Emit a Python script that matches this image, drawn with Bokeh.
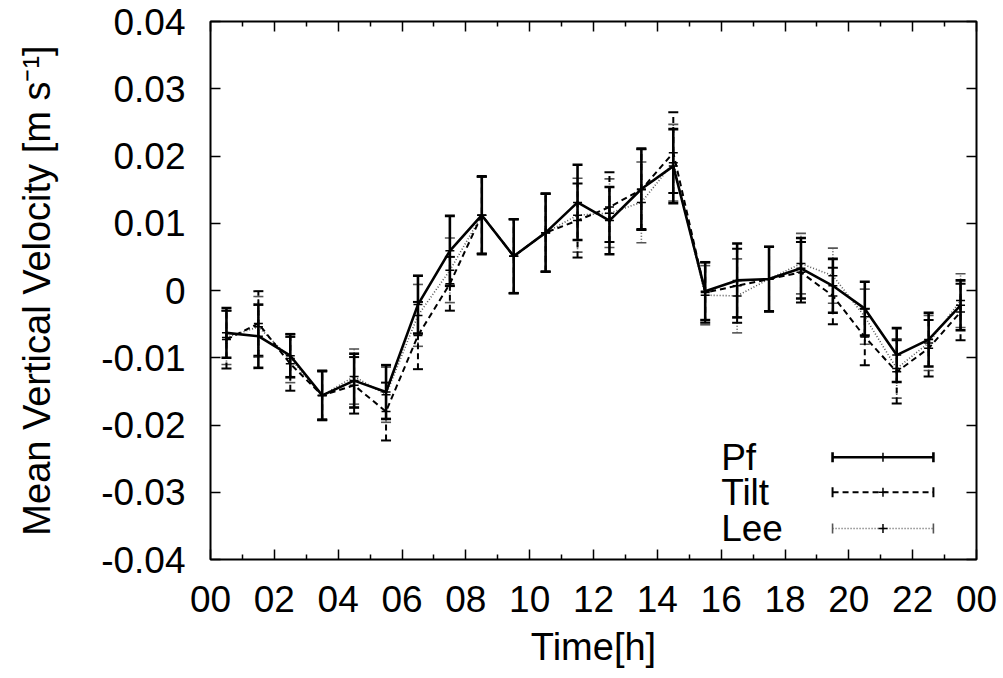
from bokeh.plotting import figure
from bokeh.models import Range1d, FixedTicker, LinearAxis, Whisker, TeeHead, ColumnDataSource
from bokeh.embed import file_html
from bokeh.resources import INLINE
from bokeh.core.properties import value

# ---------------- data ----------------
hours = [0.5, 1.5, 2.5, 3.5, 4.5, 5.5, 6.5, 7.5, 8.5, 9.5, 10.5, 11.5,
         12.5, 13.5, 14.5, 15.5, 16.5, 17.5, 18.5, 19.5, 20.5, 21.5, 22.5, 23.5]

pf = [-0.0063, -0.0068, -0.0097, -0.0156, -0.0134, -0.0151, -0.0021, 0.0059,
      0.0112, 0.0051, 0.0086, 0.0131, 0.0104, 0.0151, 0.0185, -0.0001,
      0.0015, 0.0017, 0.0033, 0.0007, -0.0027, -0.0096, -0.0073, -0.0022]
pf_err = [0.0037, 0.0047, 0.0032, 0.0036, 0.0040, 0.0040, 0.0043, 0.0052,
          0.0058, 0.0055, 0.0058, 0.0056, 0.0050, 0.0060, 0.0055, 0.0043,
          0.0055, 0.0048, 0.0045, 0.0040, 0.0040, 0.0040, 0.0040, 0.0037]

tilt = [-0.0073, -0.0049, -0.0109, -0.0156, -0.0141, -0.0180, -0.0067, 0.0010,
        0.0112, 0.0051, 0.0086, 0.0104, 0.0124, 0.0150, 0.0205, -0.0003,
        0.0007, 0.0017, 0.0027, -0.0008, -0.0069, -0.0121, -0.0086, -0.0032]
tilt_err = [0.0043, 0.0048, 0.0040, 0.0037, 0.0042, 0.0043, 0.0050, 0.0040,
            0.0057, 0.0055, 0.0058, 0.0055, 0.0052, 0.0060, 0.0060, 0.0045,
            0.0055, 0.0048, 0.0045, 0.0042, 0.0042, 0.0047, 0.0042, 0.0042]

lee = [-0.0070, -0.0054, -0.0101, -0.0156, -0.0128, -0.0155, -0.0037, 0.0030,
       0.0112, 0.0051, 0.0086, 0.0112, 0.0115, 0.0131, 0.0190, -0.0007,
       -0.0008, 0.0017, 0.0040, 0.0022, -0.0039, -0.0116, -0.0078, -0.0015]
lee_err = [0.0040, 0.0045, 0.0036, 0.0036, 0.0041, 0.0041, 0.0046, 0.0048,
           0.0057, 0.0055, 0.0058, 0.0055, 0.0051, 0.0060, 0.0057, 0.0044,
           0.0055, 0.0048, 0.0045, 0.0041, 0.0041, 0.0044, 0.0041, 0.0040]

x_ticks = [0, 2, 4, 6, 8, 10, 12, 14, 16, 18, 20, 22, 24]
x_labels = ["00", "02", "04", "06", "08", "10", "12", "14", "16", "18", "20", "22", "00"]
x_minor = [1, 3, 5, 7, 9, 11, 13, 15, 17, 19, 21, 23]
y_ticks = [-0.04, -0.03, -0.02, -0.01, 0.0, 0.01, 0.02, 0.03, 0.04]
y_labels = ["-0.04", "-0.03", "-0.02", "-0.01", "0", "0.01", "0.02", "0.03", "0.04"]

series_names = ["Pf", "Tilt", "Lee"]

FONT = "Liberation Sans"

# ---------------- figure ----------------
p = figure(width=997, height=677, x_range=Range1d(0, 24), y_range=Range1d(-0.04, 0.04),
           output_backend="svg", toolbar_location=None,
           min_border_left=210, min_border_right=21, min_border_top=21, min_border_bottom=118)
p.grid.visible = False
p.outline_line_color = "black"
p.outline_line_width = 2
p.background_fill_color = "white"
p.border_fill_color = "white"


def style_axis(ax):
    ax.axis_line_color = None
    ax.major_tick_in = 10
    ax.major_tick_out = 0
    ax.minor_tick_in = 5
    ax.minor_tick_out = 0
    ax.major_tick_line_color = "black"
    ax.minor_tick_line_color = "black"
    ax.major_tick_line_width = 1.5
    ax.minor_tick_line_width = 1.5
    ax.major_label_text_font = FONT
    ax.major_label_text_color = "black"
    ax.axis_label_text_font = FONT
    ax.axis_label_text_font_style = "normal"
    ax.axis_label_text_color = "black"


xa = p.xaxis[0]
xa.ticker = FixedTicker(ticks=x_ticks, minor_ticks=x_minor)
xa.major_label_overrides = dict(zip(x_ticks, x_labels))
style_axis(xa)
xa.major_label_text_font_size = "37px"
xa.major_label_standoff = 26
xa.axis_label = "Time[h]"
xa.axis_label_text_font_size = "38px"
xa.axis_label_standoff = 11

ya = p.yaxis[0]
ya.ticker = FixedTicker(ticks=y_ticks, minor_ticks=[])
ya.major_label_overrides = dict(zip(y_ticks, y_labels))
style_axis(ya)
ya.major_label_text_font_size = "37px"
ya.major_label_standoff = 25
ya.axis_label = "Mean Vertical Velocity [m s\u207b\u00b9]"
ya.axis_label_text_font_size = "38px"
ya.axis_label_standoff = 40

# mirrored ticks (top / right), no labels
top = LinearAxis(ticker=FixedTicker(ticks=x_ticks, minor_ticks=x_minor),
                 major_label_overrides={t: "" for t in x_ticks})
style_axis(top)
top.major_label_text_font_size = "0px"
top.major_label_standoff = 0
p.add_layout(top, "above")

right = LinearAxis(ticker=FixedTicker(ticks=y_ticks, minor_ticks=[]),
                   major_label_overrides={t: "" for t in y_ticks})
style_axis(right)
right.major_label_text_font_size = "0px"
right.major_label_standoff = 0
p.add_layout(right, "right")

# ---------------- series ----------------
styles = {
    "Lee": dict(color="#555555", width=1.6, dash="1 2"),
    "Tilt": dict(color="black", width=2.0, dash="6 4"),
    "Pf": dict(color="black", width=2.6, dash="solid"),
}
data = {"Pf": (pf, pf_err), "Tilt": (tilt, tilt_err), "Lee": (lee, lee_err)}

for name in ["Lee", "Tilt", "Pf"]:
    vals, errs = data[name]
    st = styles[name]
    src = ColumnDataSource(dict(x=hours, y=vals,
                                lo=[v - e for v, e in zip(vals, errs)],
                                hi=[v + e for v, e in zip(vals, errs)]))
    p.line("x", "y", source=src, line_color=st["color"], line_width=st["width"],
           line_dash=st["dash"])
    w = Whisker(base="x", lower="lo", upper="hi", source=src, dimension="height",
                line_color=st["color"], line_width=st["width"], line_dash=st["dash"],
                upper_head=TeeHead(size=10, line_color=st["color"], line_width=st["width"]),
                lower_head=TeeHead(size=10, line_color=st["color"], line_width=st["width"]))
    p.add_layout(w)
    p.scatter("x", "y", source=src, marker="cross", size=9, line_color="black", line_width=1.5)

# ---------------- legend (labels on the left, samples on the right) ----------------
leg_y = [-0.0248, -0.0300, -0.0354]
leg_text_x = [16.0, 16.0, 16.0]
p.text(x=leg_text_x, y=leg_y, text=series_names, text_font=value(FONT),
       text_font_size="37px", text_baseline="middle", text_align="left", text_color="black")

for name, yy in zip(series_names, leg_y):
    st = styles[name]
    lsrc = ColumnDataSource(dict(y=[yy], lo=[19.49], hi=[22.65], mx=[21.07]))
    lw = Whisker(base="y", lower="lo", upper="hi", source=lsrc, dimension="width",
                 line_color=st["color"], line_width=st["width"], line_dash=st["dash"],
                 upper_head=TeeHead(size=10, line_color=st["color"], line_width=st["width"]),
                 lower_head=TeeHead(size=10, line_color=st["color"], line_width=st["width"]))
    p.add_layout(lw)
    p.scatter("mx", "y", source=lsrc, marker="cross", size=9, line_color="black", line_width=1.5)

open("out.html", "w").write(file_html(p, INLINE))
